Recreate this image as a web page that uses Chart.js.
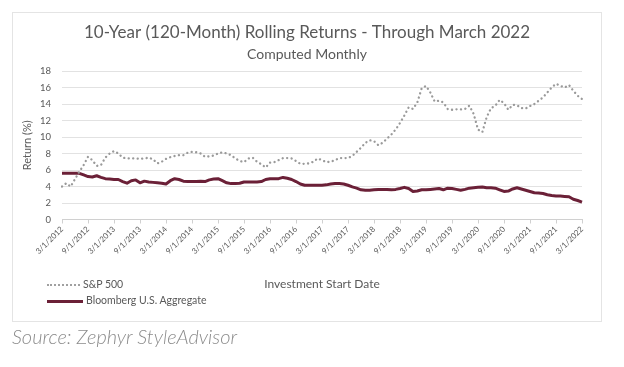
<!DOCTYPE html>
<html>
<head>
<meta charset="utf-8">
<script src="https://cdn.jsdelivr.net/npm/chart.js@4.4.1/dist/chart.umd.min.js"></script>
<style>
  html, body { margin: 0; padding: 0; background: #ffffff; }
  body { width: 624px; height: 367px; position: relative; overflow: hidden; font-family: Lato, "Open Sans", sans-serif; }
  #frame { position: absolute; left: 12px; top: 12px; width: 590px; height: 310px; box-sizing: border-box; border: 1px solid #e4e4e4; }
  #wrap { position: absolute; left: 12px; top: 12px; width: 590px; height: 310px; }
  .leg { position: absolute; font-size: 10.5px; color: #595959; line-height: 12px; white-space: nowrap; }
  .leg .sw { display: inline-block; vertical-align: middle; margin-right: 3px; }
  #source { position: absolute; left: 12px; top: 324px; font-size: 20px; font-style: italic; font-weight: 300; color: #8c8c8c; white-space: nowrap; }
</style>
</head>
<body>
<div id="frame"></div>
<div id="wrap"><canvas id="c" width="590" height="310"></canvas></div>
<div class="leg" id="leg1" style="left:47px; top:278px;"><span class="sw" style="width:33px; border-top:2px dotted #a0a0a0;"></span>S&amp;P 500</div>
<div class="leg" id="leg2" style="left:47px; top:294px;"><span class="sw" style="width:36px; border-top:3px solid #6b2037;"></span>Bloomberg U.S. Aggregate</div>
<div id="source">Source: Zephyr StyleAdvisor</div>
<script>
// ---- data ----
const startYear = 2012, startMonth = 3, monthCount = 121;
const labels = [];
for (let k = 0; k < monthCount; k++) {
  const m = (startMonth - 1 + k) % 12 + 1;
  const y = startYear + Math.floor((startMonth - 1 + k) / 12);
  labels.push(m + '/1/' + y);
}
const sp500 = [
  4.0, 4.4, 4.0, 4.9, 5.8, 6.6, 7.6, 7.2, 6.5, 6.6,
  7.5, 8.0, 8.3, 8.0, 7.5, 7.4, 7.4, 7.4, 7.35, 7.4,
  7.5, 7.3, 6.8, 7.0, 7.35, 7.55, 7.7, 7.8, 7.8, 8.1,
  8.2, 8.15, 8.0, 7.6, 7.65, 7.75, 8.0, 8.15, 8.0, 7.8,
  7.4, 7.1, 6.95, 7.4, 7.5, 7.0, 6.7, 6.3, 6.9, 6.95,
  7.2, 7.45, 7.45, 7.4, 7.1, 6.75, 6.75, 6.8, 7.0, 7.4,
  7.2, 6.95, 7.0, 7.2, 7.45, 7.45, 7.45, 7.7, 8.2, 8.7,
  9.3, 9.6, 9.5, 9.0, 9.3, 9.8, 10.3, 10.9, 11.7, 12.6,
  13.6, 13.4, 14.2, 15.9, 16.2, 15.4, 14.3, 14.4, 14.2, 13.4,
  13.3, 13.35, 13.35, 13.4, 13.8, 12.8, 10.9, 10.6, 12.4, 13.5,
  13.8, 14.5, 14.1, 13.3, 13.9, 13.85, 13.5, 13.45, 13.75, 14.0,
  14.4, 14.8, 15.4, 16.0, 16.45, 16.2, 16.0, 16.3, 15.6, 15.0,
  14.6
];
const bloombergAgg = [
  5.6, 5.6, 5.6, 5.6, 5.6, 5.4, 5.2, 5.15, 5.3, 5.1,
  4.95, 4.9, 4.85, 4.85, 4.6, 4.4, 4.7, 4.8, 4.45, 4.65,
  4.55, 4.5, 4.45, 4.4, 4.3, 4.7, 4.95, 4.85, 4.65, 4.6,
  4.6, 4.6, 4.65, 4.6, 4.8, 4.9, 4.95, 4.7, 4.45, 4.35,
  4.35, 4.4, 4.55, 4.55, 4.55, 4.55, 4.6, 4.85, 4.95, 4.95,
  4.95, 5.1, 5.0, 4.85, 4.6, 4.3, 4.15, 4.15, 4.15, 4.15,
  4.15, 4.2, 4.3, 4.35, 4.35, 4.3, 4.15, 3.95, 3.8, 3.6,
  3.55, 3.55, 3.6, 3.65, 3.65, 3.65, 3.6, 3.65, 3.75, 3.9,
  3.75, 3.4, 3.45, 3.6, 3.6, 3.65, 3.7, 3.75, 3.6, 3.8,
  3.75, 3.65, 3.55, 3.65, 3.8, 3.85, 3.9, 3.95, 3.85, 3.85,
  3.8, 3.6, 3.4, 3.45, 3.7, 3.85, 3.7, 3.55, 3.4, 3.25,
  3.2, 3.15, 3.0, 2.9, 2.85, 2.85, 2.8, 2.75, 2.45, 2.3,
  2.1
];
const yTicks = { min: 0, max: 18, step: 2 };
const labelEvery = 6;

const FONT = 'Lato, "Open Sans", sans-serif';
new Chart(document.getElementById('c'), {
  type: 'line',
  data: {
    labels: labels,
    datasets: [
      { label: 'S&P 500', data: sp500, borderColor: '#9a9a9a', borderWidth: 2.3,
        borderDash: [0.1, 4.4], borderCapStyle: 'round', pointRadius: 0, tension: 0, fill: false, yAxisID: 'y' },
      { label: 'Bloomberg U.S. Aggregate', data: bloombergAgg, borderColor: '#6b2037', borderWidth: 3,
        pointRadius: 0, tension: 0, fill: false, borderJoinStyle: 'round', yAxisID: 'y' }
    ]
  },
  options: {
    responsive: false,
    animation: false,
    devicePixelRatio: 1,
    layout: { padding: 0 },
    plugins: {
      legend: { display: false },
      tooltip: { enabled: false },
      title: { display: true, text: '10-Year (120-Month) Rolling Returns - Through March 2022',
        color: '#595959', font: { family: FONT, size: 17, weight: 'normal' }, padding: { top: 10.8, bottom: 0 } },
      subtitle: { display: true, text: 'Computed Monthly',
        color: '#595959', font: { family: FONT, size: 14, weight: 'normal' }, padding: { top: 2.4, bottom: 8.6 } }
    },
    scales: {
      x: {
        type: 'category',
        offset: false,
        grid: { display: true, drawOnChartArea: false, drawTicks: true, tickLength: 4, color: '#d0d0d0' },
        border: { display: true, color: '#d0d0d0' },
        ticks: {
          autoSkip: false, maxRotation: 45, minRotation: 45, padding: 1,
          color: '#595959', font: { family: FONT, size: 8 },
          callback: function(v, i) { return i % labelEvery === 0 ? labels[i] : null; }
        },
        title: { display: true, text: 'Investment Start Date', color: '#595959',
          font: { family: FONT, size: 12 }, padding: { top: 0, bottom: 30.8 } },
        afterFit: function(s) { s.height = 102.5; }
      },
      y: {
        position: 'left',
        min: yTicks.min, max: yTicks.max,
        grid: { color: '#e2e2e2', drawTicks: false },
        border: { display: false },
        ticks: { stepSize: yTicks.step, padding: 11, color: '#595959', font: { family: FONT, size: 9.5 } },
        title: { display: true, text: 'Return (%)', color: '#595959',
          font: { family: FONT, size: 11 }, padding: { top: 8.4, bottom: 0 } },
        afterFit: function(s) { s.width = 50; }
      },
      yRight: {
        position: 'right',
        display: true,
        grid: { display: false, drawTicks: false },
        border: { display: false },
        ticks: { display: false },
        afterFit: function(s) { s.width = 20; }
      }
    }
  }
});
</script>
</body>
</html>
